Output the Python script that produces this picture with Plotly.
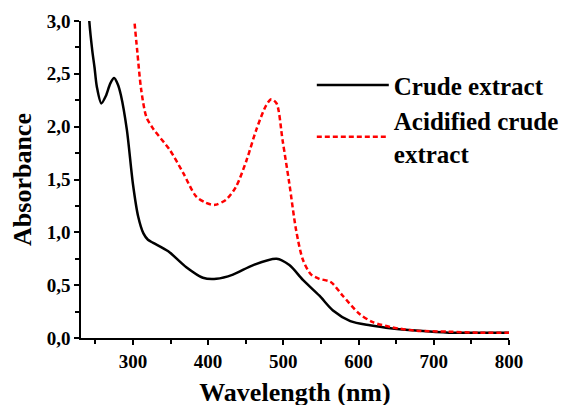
import plotly.graph_objects as go

# Crude extract (black, solid)
crude_wl = [240, 242, 246, 249, 252, 258, 264, 270, 275, 280, 284, 292, 300, 307, 314, 320, 327,
            347, 371, 393, 411, 433, 460, 491, 508, 526, 548, 566, 589, 615, 645, 676, 720, 760, 800]
crude_abs = [3.25, 3.0, 2.72, 2.56, 2.38, 2.22, 2.29, 2.41, 2.46, 2.40, 2.30, 1.97, 1.46, 1.15, 0.99,
             0.93, 0.90, 0.82, 0.67, 0.57, 0.56, 0.60, 0.69, 0.75, 0.69, 0.55, 0.40, 0.26, 0.16,
             0.12, 0.09, 0.07, 0.05, 0.05, 0.05]

# Acidified crude extract (red, dashed)
acid_wl = [300, 302, 306, 311, 318, 327, 349, 367, 384, 397, 409, 424, 437, 451, 464, 477, 484, 491,
           499, 508, 517, 526, 537, 548, 563, 579, 601, 619, 645, 676, 720, 760, 800]
acid_abs = [3.2, 3.0, 2.7, 2.35, 2.09, 1.98, 1.78, 1.56, 1.34, 1.28, 1.26, 1.31, 1.43, 1.68, 1.97,
            2.20, 2.26, 2.22, 1.87, 1.46, 1.02, 0.74, 0.60, 0.56, 0.53, 0.40, 0.23, 0.15, 0.10,
            0.07, 0.06, 0.05, 0.05]

x_ticks = [300, 400, 500, 600, 700, 800]
y_ticks = [0.0, 0.5, 1.0, 1.5, 2.0, 2.5, 3.0]

FONT = "Liberation Serif"

fig = go.Figure()
fig.add_trace(go.Scatter(
    x=crude_wl, y=crude_abs, mode="lines", name="Crude extract",
    line=dict(color="black", width=2.5, shape="spline", smoothing=0.8),
))
fig.add_trace(go.Scatter(
    x=acid_wl, y=acid_abs, mode="lines", name="Acidified crude<br>extract",
    line=dict(color="red", width=2.5, dash="5px,3px", shape="spline", smoothing=0.8),
))

axis_common = dict(
    showline=True, linecolor="black", linewidth=1.5, mirror=False,
    ticks="outside", ticklen=5, tickwidth=1.5, tickcolor="black",
    showgrid=False, zeroline=False, automargin=False,
    tickfont=dict(family=FONT, size=19, color="black", weight="bold"),
)

fig.update_layout(
    width=567, height=405,
    margin=dict(l=73, r=65, t=13, b=75),
    paper_bgcolor="white", plot_bgcolor="white",
    separators=",.",
    font=dict(family=FONT, color="black"),
    xaxis=dict(
        range=[231, 800], tickvals=x_ticks,
        minor=dict(dtick=50, tick0=250, ticks="outside", ticklen=4, tickwidth=1.5, tickcolor="black"),
        title=dict(text="Wavelength (nm)", font=dict(family=FONT, size=26, weight="bold"), standoff=12),
        **axis_common,
    ),
    yaxis=dict(
        range=[0, 3.0], tickvals=y_ticks, tickformat=".1f",
        minor=dict(dtick=0.25, ticks="outside", ticklen=4, tickwidth=1.5, tickcolor="black"),
        title=dict(text="Absorbance", font=dict(family=FONT, size=26, weight="bold"), standoff=8),
        **axis_common,
    ),
    legend=dict(
        x=0.538, y=0.87, xanchor="left", yanchor="top",
        bgcolor="rgba(0,0,0,0)",
        font=dict(family=FONT, size=25, color="black", weight="bold"),
        itemwidth=72, tracegroupgap=0,
    ),
    showlegend=True,
)

fig.write_html("out.html")
